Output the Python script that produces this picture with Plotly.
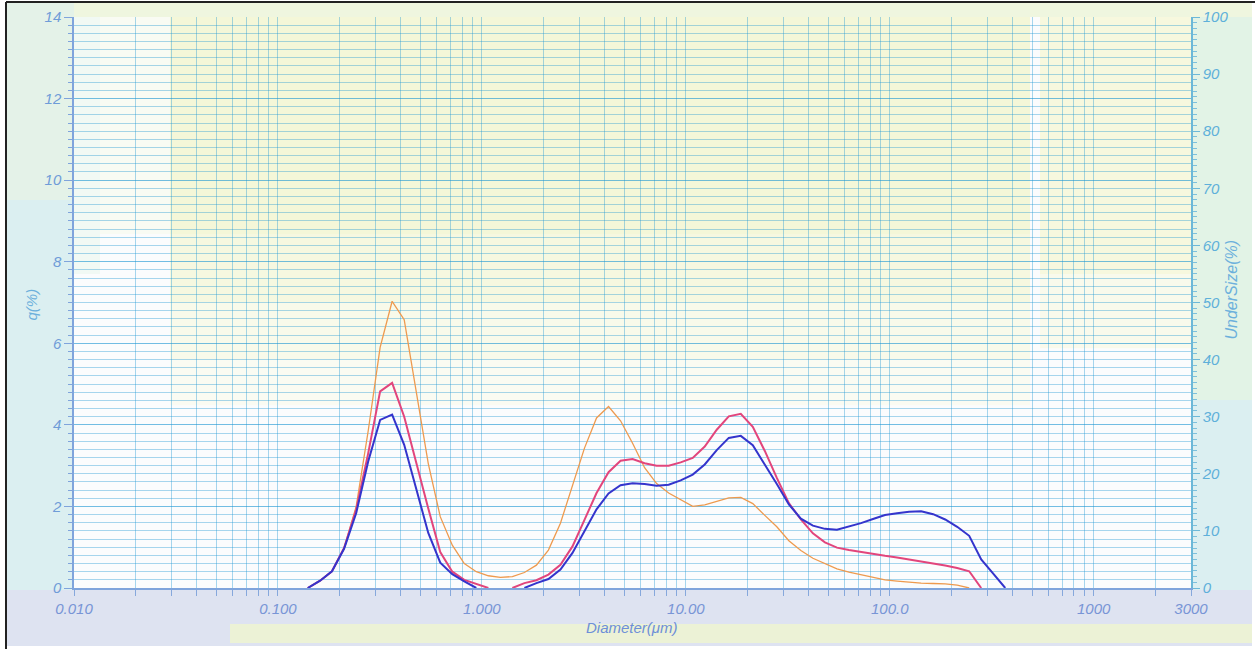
import plotly.graph_objects as go

# ---------------- data ----------------
diameter_um = [0.140, 0.161, 0.184, 0.211, 0.242, 0.277, 0.317, 0.363, 0.416, 0.476,
               0.546, 0.625, 0.716, 0.820, 0.939, 1.076, 1.232, 1.411, 1.616, 1.851,
               2.120, 2.428, 2.781, 3.185, 3.649, 4.179, 4.786, 5.482, 6.279, 7.192,
               8.238, 9.435, 10.81, 12.38, 14.18, 16.24, 18.60, 21.30, 24.40, 27.94,
               32.01, 36.66, 41.99, 48.09, 55.09, 63.09, 72.27, 82.77, 94.80, 108.6,
               124.4, 142.5, 163.2, 186.9, 214.1, 245.2, 280.8, 321.6, 368.4]

q_blue = [0, 0.18, 0.41, 0.96, 1.84, 3.10, 4.12, 4.25, 3.51, 2.45,
          1.35, 0.62, 0.34, 0.16, 0, None, None, None, 0, 0.12,
          0.22, 0.45, 0.86, 1.40, 1.93, 2.32, 2.52, 2.57, 2.55, 2.51,
          2.53, 2.64, 2.78, 3.03, 3.38, 3.68, 3.73, 3.50, 3.04, 2.55,
          2.05, 1.70, 1.53, 1.45, 1.43, 1.51, 1.59, 1.69, 1.79, 1.83,
          1.87, 1.88, 1.81, 1.68, 1.50, 1.28, 0.70, 0.35, 0]

q_red = [0, 0.18, 0.41, 0.98, 1.93, 3.30, 4.82, 5.03, 4.20, 3.05,
         1.95, 0.88, 0.40, 0.20, 0.10, 0, None, 0, 0.12, 0.19,
         0.33, 0.57, 1.02, 1.67, 2.33, 2.84, 3.12, 3.16, 3.06, 3.00,
         3.00, 3.08, 3.19, 3.47, 3.88, 4.21, 4.27, 3.95, 3.36, 2.70,
         2.08, 1.68, 1.34, 1.12, 0.99, 0.93, 0.88, 0.83, 0.79, 0.75,
         0.70, 0.66, 0.61, 0.55, 0.49, 0.41, 0, None, None]

q_orange = [0, 0.18, 0.41, 0.98, 2.00, 3.85, 5.90, 7.03, 6.58, 4.85,
            3.05, 1.75, 1.05, 0.60, 0.40, 0.30, 0.26, 0.28, 0.38, 0.56,
            0.93, 1.59, 2.49, 3.43, 4.17, 4.45, 4.10, 3.55, 2.95, 2.56,
            2.33, 2.16, 2.00, 2.04, 2.12, 2.21, 2.22, 2.07, 1.78, 1.50,
            1.16, 0.92, 0.73, 0.59, 0.47, 0.39, 0.33, 0.26, 0.20, 0.17,
            0.14, 0.12, 0.11, 0.10, 0.07, 0, None, None, None]

x_grid_vals = [0.01, 0.02, 0.03, 0.04, 0.05, 0.06, 0.07, 0.08, 0.09,
               0.1, 0.2, 0.3, 0.4, 0.5, 0.6, 0.7, 0.8, 0.9,
               1, 2, 3, 4, 5, 6, 7, 8, 9,
               10, 20, 30, 40, 50, 60, 70, 80, 90,
               100, 200, 300, 400, 500, 600, 700, 800, 900,
               1000, 2000, 3000]
x_labels = {0.01: "0.010", 0.1: "0.100", 1: "1.000", 10: "10.00",
            100: "100.0", 1000: "1000", 3000: "3000"}
left_ticks = [0, 2, 4, 6, 8, 10, 12, 14]
right_ticks = [0, 10, 20, 30, 40, 50, 60, 70, 80, 90, 100]

# ---------------- layout geometry ----------------
W, H = 1255, 654
L, R, T, B = 74, 64, 17, 66
PW, PH = W - L - R, H - T - B


def px(xp):
    return (xp - L) / PW


def py(yp):
    return (H - B - yp) / PH


FONT = "Liberation Sans, Arial, sans-serif"
GRID = "rgba(30,150,210,0.38)"
fig = go.Figure()

fig.add_trace(go.Scatter(x=diameter_um, y=q_orange, mode="lines",
                         line=dict(color="#ee9a4e", width=1.3),
                         connectgaps=False, showlegend=False))
fig.add_trace(go.Scatter(x=diameter_um, y=q_red, mode="lines",
                         line=dict(color="#e2457c", width=2),
                         connectgaps=False, showlegend=False))
fig.add_trace(go.Scatter(x=diameter_um, y=q_blue, mode="lines",
                         line=dict(color="#3434cc", width=2),
                         connectgaps=False, showlegend=False))
# empty trace to carry the right axis
fig.add_trace(go.Scatter(x=[None], y=[None], yaxis="y2", showlegend=False,
                         hoverinfo="skip"))

shapes = []
# scanned paper background
shapes.append(dict(type="rect", xref="paper", yref="paper",
                   x0=px(6), x1=px(1252), y0=py(646), y1=py(2),
                   fillcolor="#dbeff1", line_width=0, layer="below"))
shapes.append(dict(type="rect", xref="paper", yref="paper",
                   x0=px(6), x1=px(1252), y0=py(646), y1=py(590),
                   fillcolor="#dee3f1", line_width=0, layer="below"))
shapes.append(dict(type="rect", xref="paper", yref="paper",
                   x0=px(230), x1=px(1252), y0=py(643), y1=py(624),
                   fillcolor="#ecf2d6", line_width=0, layer="below"))
shapes.append(dict(type="rect", xref="paper", yref="paper",
                   x0=px(6), x1=px(74), y0=py(200), y1=py(2),
                   fillcolor="#e4f2e8", line_width=0, layer="below"))
shapes.append(dict(type="rect", xref="paper", yref="paper",
                   x0=px(74), x1=px(1252), y0=py(17), y1=py(2),
                   fillcolor="#eff6df", line_width=0, layer="below"))
shapes.append(dict(type="rect", xref="paper", yref="paper",
                   x0=px(1190), x1=px(1252), y0=py(400), y1=py(17),
                   fillcolor="#e2f3e6", line_width=0, layer="below"))
# plot interior
shapes.append(dict(type="rect", xref="paper", yref="paper",
                   x0=0, x1=1, y0=0, y1=1,
                   fillcolor="#fbfcfd", line_width=0, layer="below"))

# yellow tint bands (under the grid)
bands = [
    (px(170), px(1030), 0.62, 1.00, "#f4f7d8"),
    (px(170), px(1030), 0.50, 0.62, "#f6f8e0"),
    (px(170), px(1030), 0.40, 0.50, "#f8faea"),
    (px(170), px(1030), 0.32, 0.40, "#fafbf2"),
    (px(1040), 1.0, 0.55, 1.00, "#f7f8de"),
    (px(1040), 1.0, 0.42, 0.55, "#f9faec"),
    (0.0, px(100), 0.55, 1.00, "#f1f9f4"),
    (px(100), px(170), 0.62, 1.00, "#f9fbf3"),
]
for x0, x1, y0, y1, col in bands:
    shapes.append(dict(type="rect", xref="paper", yref="paper",
                       x0=x0, x1=x1, y0=y0, y1=y1,
                       fillcolor=col, line_width=0, layer="below"))
# black frame lines of the scan
shapes.append(dict(type="line", xref="paper", yref="paper",
                   x0=px(6), x1=px(6), y0=py(649), y1=py(2),
                   line=dict(color="#222222", width=2), layer="above"))
shapes.append(dict(type="line", xref="paper", yref="paper",
                   x0=px(6), x1=px(1255), y0=py(2), y1=py(2),
                   line=dict(color="#222222", width=2), layer="above"))

annotations = [
    dict(text="Diameter(μm)", xref="paper", yref="paper",
         x=px(632), y=py(638), showarrow=False,
         font=dict(family=FONT, size=15, color="#6d8fd8", style="italic")),
    dict(text="q(%)", xref="paper", yref="paper",
         x=px(20), y=py(305), showarrow=False, textangle=-90,
         font=dict(family=FONT, size=15, color="#6cb0dc", style="italic")),
    dict(text="UnderSize(%)", xref="paper", yref="paper",
         x=px(1241), y=py(290), showarrow=False, textangle=-90,
         font=dict(family=FONT, size=16, color="#6cb0dc", style="italic")),
]

fig.update_layout(
    width=W, height=H,
    margin=dict(l=L, r=R, t=T, b=B, pad=0),
    paper_bgcolor="white",
    plot_bgcolor="rgba(0,0,0,0)",
    showlegend=False,
    shapes=shapes,
    annotations=annotations,
    xaxis=dict(
        type="log", range=[-2, 3.4771], tickmode="array",
        tickvals=x_grid_vals,
        ticktext=[x_labels.get(v, "") for v in x_grid_vals],
        showgrid=True, gridcolor=GRID, gridwidth=1,
        ticks="outside", ticklen=6, tickcolor="#86a8dc",
        showline=True, linecolor="#7fa4dc", linewidth=1.5,
        zeroline=False, automargin=False,
        tickfont=dict(family=FONT, size=15, color="#7895d6", style="italic"),
    ),
    yaxis=dict(
        range=[0, 14], tickmode="array", tickvals=left_ticks,
        showgrid=True, gridcolor=GRID, gridwidth=1,
        ticks="outside", ticklen=8, tickcolor="#7fa4dc",
        showline=True, linecolor="#7fa4dc", linewidth=1.5,
        zeroline=False, automargin=False,
        minor=dict(dtick=0.2, showgrid=True, gridcolor=GRID,
                   gridwidth=1, ticks="outside", ticklen=4,
                   tickcolor="#7fa4dc"),
        tickfont=dict(family=FONT, size=15, color="#6f9cd8", style="italic"),
    ),
    yaxis2=dict(
        range=[0, 100], overlaying="y", side="right",
        tickmode="array", tickvals=right_ticks,
        showgrid=False, zeroline=False, automargin=False,
        ticks="outside", ticklen=7, tickcolor="#6cb8d8",
        showline=True, linecolor="#6cb8d8", linewidth=1.5,
        minor=dict(dtick=1, ticks="outside", ticklen=4, tickcolor="#7cc0dc",
                   showgrid=False),
        tickfont=dict(family=FONT, size=15, color="#5eb0da", style="italic"),
    ),
)

fig.write_html("out.html",
               config={"displayModeBar": False},
               post_script="document.body.style.margin='0';"
                           "document.body.style.overflow='hidden';")
